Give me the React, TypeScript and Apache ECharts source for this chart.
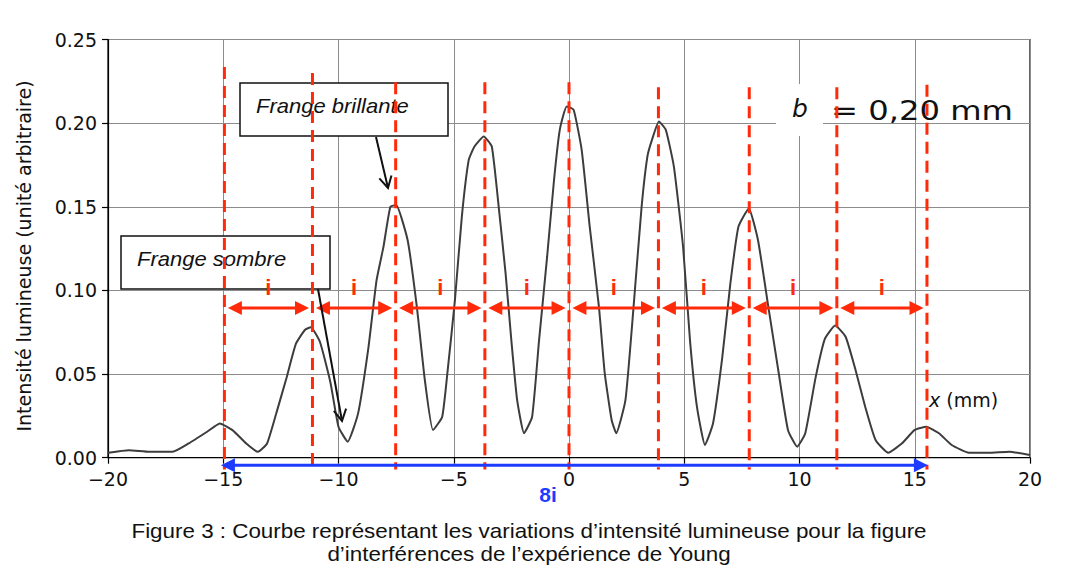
import React, { useEffect, useRef } from "react";
import * as echarts from "echarts";

// ---- Data ----
const intensityX = [
  -20, -19.1, -18.2, -17.2, -16.5, -15.7, -15.15, -14.6, -14.0, -13.5, -13.1, -12.7, -12.25, -11.85,
  -11.45, -11.2, -10.8, -10.35, -10.0, -9.6, -9.15, -8.7, -8.35, -8.05, -7.75, -7.5, -7.0, -6.6,
  -6.25, -5.9, -5.5, -5.25, -4.95, -4.65, -4.35, -4.1, -3.7, -3.35, -3.05, -2.75, -2.5, -2.25,
  -1.95, -1.6, -1.3, -0.95, -0.65, -0.4, -0.1, 0.2, 0.55, 0.9, 1.3, 1.55, 1.85, 2.05, 2.45, 2.8,
  3.15, 3.4, 3.6, 3.9, 4.2, 4.55, 4.95, 5.25, 5.55, 5.9, 6.25, 6.65, 7.0, 7.35, 7.8, 8.2, 8.65,
  9.1, 9.5, 9.9, 10.25, 10.7, 11.1, 11.55, 12.0, 12.4, 12.85, 13.3, 13.85, 14.45, 15.0, 15.5,
  16.05, 16.6, 17.35, 18.2, 19.1, 20,
];
const intensityY = [
  0.003, 0.0045, 0.0035, 0.0035, 0.0085, 0.0155, 0.0205, 0.0165, 0.0085, 0.0035, 0.0085, 0.0265, 0.048, 0.068,
  0.0765, 0.078, 0.069, 0.045, 0.0185, 0.0096, 0.0265, 0.066, 0.106, 0.126, 0.15, 0.151, 0.13, 0.09,
  0.046, 0.0165, 0.0245, 0.054, 0.094, 0.144, 0.178, 0.186, 0.192, 0.186, 0.15, 0.11, 0.07, 0.0345,
  0.0146, 0.0245, 0.07, 0.12, 0.166, 0.196, 0.21, 0.208, 0.184, 0.138, 0.09, 0.0505, 0.0225, 0.0146, 0.0345, 0.09,
  0.15, 0.18, 0.19, 0.201, 0.196, 0.174, 0.126, 0.07, 0.0305, 0.0076, 0.0206, 0.06, 0.104, 0.138, 0.149, 0.13, 0.09,
  0.0505, 0.0166, 0.0066, 0.0146, 0.048, 0.071, 0.079, 0.0723, 0.054, 0.0305, 0.0106, 0.003, 0.0086, 0.0166, 0.0185,
  0.0146, 0.0076, 0.003, 0.003, 0.0036, 0.0016,
];

// red dashed lines (fringe positions, mm) and their top ends
const fringeX = [-14.95, -11.13, -7.52, -3.65, 0, 3.88, 7.82, 11.62, 15.53];
const fringeTop = [0.2335, 0.23, 0.2245, 0.2245, 0.2245, 0.2215, 0.2215, 0.2215, 0.223];
const fringeBottom = -0.007;

// interfringe arrows
const spacingArrowY = 0.0895;
const spacingLabelY = 0.102;
const spacingLabel = "i";

// total span arrow (8i)
const spanStart = -15.1;
const spanEnd = 15.57;
const spanY = -0.0045;
const spanLabel = "8i";

const RED = "#ff2a0a";
const BLUE = "#1d3cff";

function vHead(x1: number, y1: number, x2: number, y2: number, len = 12, ang = 0.45) {
  const a = Math.atan2(y2 - y1, x2 - x1);
  return [
    [x2 - len * Math.cos(a - ang), y2 - len * Math.sin(a - ang)],
    [x2, y2],
    [x2 - len * Math.cos(a + ang), y2 - len * Math.sin(a + ang)],
  ];
}

// double-headed arrow between two pixel points, filled triangular heads
function doubleArrow(p1: number[], p2: number[], color: string, headLen: number, headHalf: number, width: number) {
  const dx = p2[0] - p1[0];
  const dy = p2[1] - p1[1];
  const L = Math.sqrt(dx * dx + dy * dy) || 1;
  const ux = dx / L;
  const uy = dy / L;
  const nx = -uy;
  const ny = ux;
  const head = (tip: number[], dir: number) => {
    const bx = tip[0] - dir * ux * headLen;
    const by = tip[1] - dir * uy * headLen;
    return [
      [tip[0], tip[1]],
      [bx + nx * headHalf, by + ny * headHalf],
      [bx - nx * headHalf, by - ny * headHalf],
    ];
  };
  return [
    {
      type: "line",
      shape: {
        x1: p1[0] + ux * (headLen - 2),
        y1: p1[1] + uy * (headLen - 2),
        x2: p2[0] - ux * (headLen - 2),
        y2: p2[1] - uy * (headLen - 2),
      },
      style: { stroke: color, lineWidth: width },
    },
    { type: "polygon", shape: { points: head(p1, -1) }, style: { fill: color } },
    { type: "polygon", shape: { points: head(p2, 1) }, style: { fill: color } },
  ];
}

export default function App() {
  const ref = useRef<HTMLDivElement>(null);

  useEffect(() => {
    if (!ref.current) return;
    const chart = echarts.init(ref.current, undefined, { renderer: "svg" });

    const curve = intensityX.map((x, i) => [x, intensityY[i]]);
    const gap = 0.15;
    const segments = fringeX.slice(0, -1).map((x, i) => [x + gap, fringeX[i + 1] - gap, spacingArrowY]);
    const fringeData = fringeX.map((x, i) => [x, fringeTop[i], fringeBottom]);

    const fmtX = (v: number) => (v < 0 ? "\u2212" + Math.abs(v) : String(v));

    const arrows: any[] = [];
    const addArrow = (x1: number, y1: number, x2: number, y2: number) => {
      arrows.push({
        type: "line",
        z: 6,
        shape: { x1, y1, x2, y2 },
        style: { stroke: "#111", lineWidth: 2 },
      });
      arrows.push({
        type: "polyline",
        z: 6,
        shape: { points: vHead(x1, y1, x2, y2, 13, 0.5) },
        style: { stroke: "#111", lineWidth: 2, fill: null },
      });
    };
    addArrow(376, 137, 388, 188);
    addArrow(318, 289, 342, 421);

    const option: any = {
      animation: false,
      backgroundColor: "#ffffff",
      grid: {
        left: 108,
        right: 37,
        top: 39.5,
        bottom: 110.3,
        show: true,
        borderColor: "#000",
        borderWidth: 1.2,
        containLabel: false,
      },
      xAxis: {
        type: "value",
        min: -20,
        max: 20,
        interval: 5,
        axisLine: { show: true, onZero: false, lineStyle: { color: "#000", width: 1.2 } },
        axisTick: { show: true, length: 6, lineStyle: { color: "#000", width: 1.2 } },
        axisLabel: {
          margin: 12,
          fontSize: 19,
          color: "#111",
          fontFamily: "DejaVu Sans",
          formatter: fmtX,
        },
        splitLine: { show: true, lineStyle: { color: "#8c8c8c", width: 1 } },
      },
      yAxis: {
        type: "value",
        min: 0,
        max: 0.25,
        interval: 0.05,
        axisLine: { show: true, onZero: false, lineStyle: { color: "#000", width: 1.2 } },
        axisTick: { show: true, length: 6, lineStyle: { color: "#000", width: 1.2 } },
        axisLabel: {
          margin: 11,
          fontSize: 19,
          color: "#111",
          fontFamily: "DejaVu Sans",
          formatter: (v: number) => v.toFixed(2),
        },
        splitLine: { show: true, lineStyle: { color: "#8c8c8c", width: 1 } },
      },
      series: [
        {
          type: "line",
          data: curve,
          showSymbol: false,
          symbol: "none",
          smooth: 0.15,
          lineStyle: { color: "#3d3d3d", width: 2 },
          z: 3,
          silent: true,
        },
        {
          // red dashed fringe lines
          type: "custom",
          data: fringeData,
          z: 4,
          silent: true,
          clip: false,
          renderItem: (params: any, api: any) => {
            const top = api.coord([api.value(0), api.value(1)]);
            const bot = api.coord([api.value(0), api.value(2)]);
            return {
              type: "line",
              shape: { x1: top[0], y1: top[1], x2: bot[0], y2: bot[1] },
              style: { stroke: RED, lineWidth: 3, lineDash: [12, 7] },
            };
          },
        },
        {
          // interfringe arrows with "i" labels
          type: "custom",
          data: segments,
          z: 5,
          silent: true,
          clip: false,
          renderItem: (params: any, api: any) => {
            const a = api.value(0);
            const b = api.value(1);
            const y = api.value(2);
            const p1 = api.coord([a, y]);
            const p2 = api.coord([b, y]);
            const lp = api.coord([(a + b) / 2, spacingLabelY]);
            return {
              type: "group",
              children: [
                ...doubleArrow(p1, p2, RED, 14, 7, 3),
                {
                  type: "text",
                  x: lp[0],
                  y: lp[1],
                  style: {
                    text: spacingLabel,
                    fontSize: 22,
                    fontWeight: "bold",
                    fontFamily: "Liberation Sans",
                    fill: RED,
                    align: "center",
                    verticalAlign: "middle",
                  },
                },
              ],
            };
          },
        },
        {
          // blue 8i span arrow
          type: "custom",
          data: [[spanStart, spanEnd, spanY]],
          z: 5,
          silent: true,
          clip: false,
          renderItem: (params: any, api: any) => {
            const y = api.value(2);
            const p1 = api.coord([api.value(0), y]);
            const p2 = api.coord([api.value(1), y]);
            return { type: "group", children: doubleArrow(p1, p2, BLUE, 14, 7, 3) };
          },
        },
      ],
      graphic: [
        // y-axis title
        {
          type: "text",
          x: 24,
          y: 256,
          rotation: Math.PI / 2,
          z: 6,
          style: {
            text: "Intensité lumineuse (unité arbitraire)",
            fontSize: 19,
            fontFamily: "DejaVu Sans",
            fill: "#111",
            align: "center",
            verticalAlign: "middle",
          },
        },
        // b = 0,20 mm
        {
          type: "rect",
          z: 1,
          shape: { x: 776, y: 84, width: 47, height: 52 },
          style: { fill: "#ffffff" },
        },
        {
          type: "text",
          x: 800,
          y: 108,
          z: 1,
          style: {
            text: "b",
            fontSize: 25,
            fontStyle: "italic",
            fontFamily: "DejaVu Sans",
            fill: "#111",
            align: "center",
            verticalAlign: "middle",
          },
        },
        {
          type: "text",
          x: 831,
          y: 111,
          z: 1,
          scaleX: 1.24,
          style: {
            text: "= 0,20 mm",
            fontSize: 26,
            fontFamily: "DejaVu Sans",
            fill: "#111",
            align: "left",
            verticalAlign: "middle",
          },
        },
        // Frange brillante
        {
          type: "rect",
          z: 1,
          shape: { x: 240, y: 83, width: 208, height: 53 },
          style: { fill: "#ffffff", stroke: "#111", lineWidth: 1.5 },
        },
        {
          type: "text",
          x: 256,
          y: 106,
          z: 1,
          scaleX: 1.1,
          style: {
            text: "Frange brillante",
            fontSize: 20,
            fontStyle: "italic",
            fontFamily: "Liberation Sans",
            fill: "#111",
            align: "left",
            verticalAlign: "middle",
          },
        },
        // Frange sombre
        {
          type: "rect",
          z: 1,
          shape: { x: 121, y: 236, width: 209, height: 53 },
          style: { fill: "#ffffff", stroke: "#111", lineWidth: 1.5 },
        },
        {
          type: "text",
          x: 137,
          y: 259,
          z: 1,
          scaleX: 1.1,
          style: {
            text: "Frange sombre",
            fontSize: 20,
            fontStyle: "italic",
            fontFamily: "Liberation Sans",
            fill: "#111",
            align: "left",
            verticalAlign: "middle",
          },
        },
        ...arrows,
        // x (mm)
        {
          type: "text",
          x: 929,
          y: 400,
          z: 6,
          style: {
            text: "{i|x} (mm)",
            fontSize: 19,
            fontFamily: "DejaVu Sans",
            fill: "#111",
            align: "left",
            verticalAlign: "middle",
            rich: { i: { fontStyle: "italic", fontSize: 19, fontFamily: "DejaVu Sans", fill: "#111" } },
          },
        },
        // 8i
        {
          type: "text",
          x: 548,
          y: 494,
          z: 6,
          style: {
            text: spanLabel,
            fontSize: 21,
            fontWeight: "bold",
            fontFamily: "Liberation Sans",
            fill: BLUE,
            align: "center",
            verticalAlign: "middle",
          },
        },
        // caption
        {
          type: "text",
          x: 529,
          y: 531,
          z: 6,
          scaleX: 1.12,
          style: {
            text: "Figure 3 : Courbe représentant les variations d\u2019intensité lumineuse pour la figure",
            fontSize: 20,
            fontFamily: "Liberation Sans",
            fill: "#111",
            align: "center",
            verticalAlign: "middle",
          },
        },
        {
          type: "text",
          x: 529,
          y: 554,
          z: 6,
          scaleX: 1.12,
          style: {
            text: "d\u2019interférences de l\u2019expérience de Young",
            fontSize: 20,
            fontFamily: "Liberation Sans",
            fill: "#111",
            align: "center",
            verticalAlign: "middle",
          },
        },
      ],
    };

    chart.setOption(option);
    return () => chart.dispose();
  }, []);

  return (
    <div
      ref={ref}
      style={{ position: "absolute", left: 0, top: 0, width: 1067, height: 568 }}
    />
  );
}
